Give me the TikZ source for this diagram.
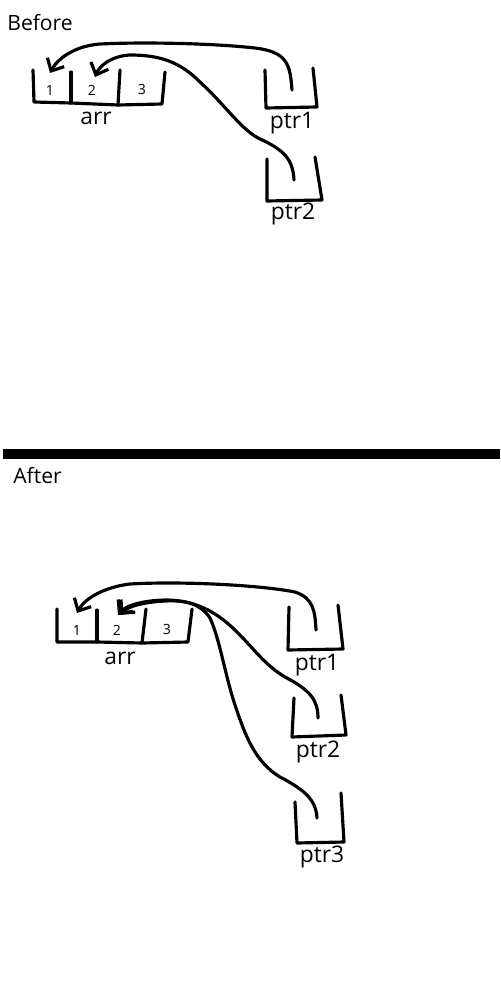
\documentclass[tikz,border=0pt]{standalone}
\usepackage{fontspec}
\setmainfont{Open Sans}
\usetikzlibrary{arrows.meta}

\begin{document}
\begin{tikzpicture}[x=0.02cm, y=-0.02cm,
    trait/.style={line width=1.8pt, line cap=round, line join=round},
    fleche/.style={trait, -{Straight Barb[length=2mm, width=3.8mm]}},
    titre/.style={anchor=base west, inner sep=0pt, font=\fontsize{12}{14}\selectfont},
    nom/.style={inner sep=1pt, font=\fontsize{13}{15}\selectfont},
    valeur/.style={inner sep=1pt, font=\fontsize{8}{9}\selectfont}]
    \useasboundingbox (0,0) rectangle (500,1000);

    % Séparation
    \fill (3,449) rectangle (500,459);
    \node[titre] (avant) at (7,31) {Before};
    \node[titre] (apres) at (13,483) {After};

    % Avant : tableau
    \draw[trait] (33,70) -- (34,102) -- (71,103) -- (118,105) -- (162,104) -- (165,72);
    \draw[trait] (71,72) -- (71,103);
    \draw[trait] (120,70) -- (118,105);
    \foreach \v/\x/\y in {1/50/90, 2/92/90, 3/142/89} {
        \node[valeur] (av\v) at (\x,\y) {\v};
    }
    \node[nom] (avArr) at (96,118) {arr};

    % Avant : pointeurs
    \draw[trait] (265,70) -- (266,108) -- (317,107) -- (313,68);
    \node[nom] (avPtr1) at (292,123) {ptr1};
    \draw[trait] (267,159) -- (267,201) -- (322,200) -- (315,157);
    \node[nom] (avPtr2) at (293,214) {ptr2};

    \coordinate (avS1) at (292,90);
    \coordinate (avS2) at (294,180);
    \coordinate (avC1) at (50,73);
    \coordinate (avC2) at (95,77);
    \draw[fleche] (avS1) .. controls (290,65) and (288,52) .. (255,48)
        .. controls (210,43) and (140,42) .. (100,44)
        .. controls (75,46) and (58,58) .. (avC1);
    \draw[fleche] (avS2) .. controls (293,160) and (285,150) .. (258,138)
        .. controls (240,128) and (225,105) .. (200,82)
        .. controls (180,62) and (160,55) .. (130,55)
        .. controls (112,56) and (100,65) .. (avC2);

    % Après : tableau
    \draw[trait] (57,609) -- (57,642) -- (97,642) -- (142,643) -- (188,642) -- (192,609);
    \draw[trait] (97,610) -- (97,642);
    \draw[trait] (146,609) -- (142,643);
    \foreach \v/\x/\y in {1/77/630, 2/117/630, 3/167/629} {
        \node[valeur] (ap\v) at (\x,\y) {\v};
    }
    \node[nom] (apArr) at (120,658) {arr};

    % Après : pointeurs
    \draw[trait] (289,607) -- (288,650) -- (343,649) -- (338,605);
    \node[nom] (apPtr1) at (317,665) {ptr1};
    \draw[trait] (294,698) -- (292,737) -- (346,735) -- (341,695);
    \node[nom] (apPtr2) at (318,752) {ptr2};
    \draw[trait] (295,802) -- (297,843) -- (344,842) -- (341,793);
    \node[nom] (apPtr3) at (322,857) {ptr3};

    \coordinate (apS1) at (316,630);
    \coordinate (apS2) at (318,718);
    \coordinate (apS3) at (317,818);
    \coordinate (apC1) at (77,613);
    \coordinate (apC2) at (118,615);
    \coordinate (apC3) at (120,615);
    \draw[fleche] (apS1) .. controls (315,610) and (313,598) .. (295,592)
        .. controls (260,585) and (180,581) .. (130,584)
        .. controls (105,587) and (85,598) .. (apC1);
    \draw[fleche] (apS2) .. controls (318,700) and (310,690) .. (285,677)
        .. controls (265,665) and (255,650) .. (238,633)
        .. controls (220,615) and (200,601) .. (168,600)
        .. controls (145,600) and (126,605) .. (apC2);
    \draw[fleche] (apS3) .. controls (316,800) and (305,790) .. (280,777)
        .. controls (255,762) and (245,735) .. (235,705)
        .. controls (225,675) and (220,640) .. (210,618)
        .. controls (200,603) and (185,600) .. (165,601)
        .. controls (145,602) and (128,606) .. (apC3);
\end{tikzpicture}
\end{document}
